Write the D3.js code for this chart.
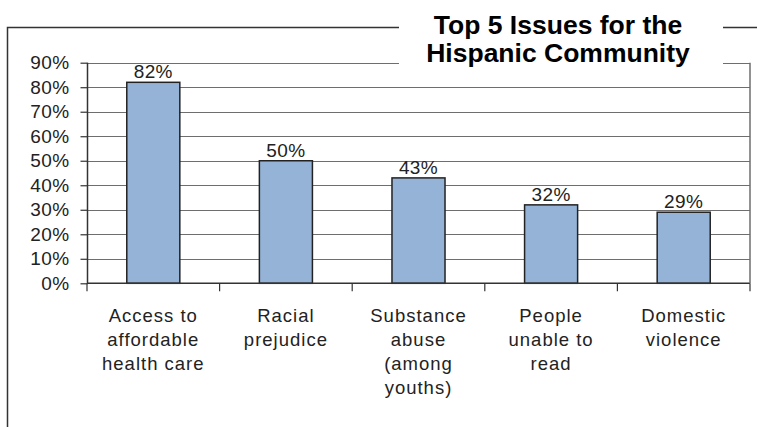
<!DOCTYPE html>
<html>
<head>
<meta charset="utf-8">
<script src="https://cdn.jsdelivr.net/npm/d3@7"></script>
<style>
  html, body { margin: 0; padding: 0; background: #fff; }
  svg { display: block; font-family: "Liberation Sans", Arial, sans-serif; }
</style>
</head>
<body>
<svg id="chart" width="757" height="427"></svg>
<script>
const categories = [
  ["Access to", "affordable", "health care"],
  ["Racial", "prejudice"],
  ["Substance", "abuse", "(among", "youths)"],
  ["People", "unable to", "read"],
  ["Domestic", "violence"]
];
const values = [0.82, 0.50, 0.43, 0.32, 0.29];
const valueLabels = ["82%", "50%", "43%", "32%", "29%"];
const yTicks = [0, 0.1, 0.2, 0.3, 0.4, 0.5, 0.6, 0.7, 0.8, 0.9];
const titleLines = ["Top 5 Issues for the", "Hispanic Community"];

const svg = d3.select("#chart");
const plot = { left: 87, right: 750, top: 62.7, bottom: 283.3 };

// outer frame (cropped by picture edge)
svg.append("rect")
  .attr("x", 7.5).attr("y", 27.5)
  .attr("width", 800).attr("height", 500)
  .attr("fill", "none").attr("stroke", "#333").attr("stroke-width", 1.5);

const x = d3.scaleBand()
  .domain(d3.range(categories.length))
  .range([plot.left, plot.right])
  .paddingInner(0.6).paddingOuter(0.3);
const xOuter = d3.scaleBand()
  .domain(d3.range(categories.length))
  .range([plot.left, plot.right]);
const y = d3.scaleLinear().domain([0, 0.9]).range([plot.bottom, plot.top]);

// gridlines
svg.append("g").selectAll("line").data(yTicks.slice(1)).join("line")
  .attr("x1", plot.left).attr("x2", plot.right)
  .attr("y1", d => Math.round(y(d)) + 0.5).attr("y2", d => Math.round(y(d)) + 0.5)
  .attr("stroke", "#6e6e6e").attr("stroke-width", 1.2);

// y axis
const yAxis = d3.axisLeft(y).tickValues(yTicks).tickFormat(d3.format(".0%")).tickSize(7).tickPadding(11);
const gy = svg.append("g").attr("transform", `translate(${plot.left + 0.5},0)`).call(yAxis);
gy.select(".domain").attr("stroke", "#333").attr("stroke-width", 1.5).attr("d", `M0,${plot.top}V${plot.bottom}`);
gy.selectAll(".tick line").attr("stroke", "#333").attr("stroke-width", 1.2);
gy.selectAll(".tick text").attr("font-size", 19).attr("fill", "#222")
  .attr("letter-spacing", 0.4)
  .attr("font-family", '"Liberation Sans", Arial, sans-serif');

// bars
svg.append("g").selectAll("rect").data(values).join("rect")
  .attr("x", (d, i) => x(i)).attr("width", x.bandwidth())
  .attr("y", d => y(d)).attr("height", d => y(0) - y(d))
  .attr("fill", "#95b3d7").attr("stroke", "#222").attr("stroke-width", 1.5);

// x axis line and boundary ticks
svg.append("line")
  .attr("x1", plot.left).attr("x2", plot.right)
  .attr("y1", plot.bottom).attr("y2", plot.bottom)
  .attr("stroke", "#333").attr("stroke-width", 1.5);
const bounds = d3.range(categories.length + 1).map(i => i < categories.length ? xOuter(i) : plot.right);
svg.append("g").selectAll("line").data(bounds).join("line")
  .attr("x1", d => d).attr("x2", d => d)
  .attr("y1", plot.bottom).attr("y2", plot.bottom + 8)
  .attr("stroke", "#333").attr("stroke-width", 1.2);
// right edge of plot
svg.append("line")
  .attr("x1", plot.right).attr("x2", plot.right)
  .attr("y1", plot.top).attr("y2", plot.bottom)
  .attr("stroke", "#6e6e6e").attr("stroke-width", 1.5);

// value labels
svg.append("g").selectAll("text").data(values).join("text")
  .attr("x", (d, i) => x(i) + x.bandwidth() / 2)
  .attr("y", d => y(d) - 4)
  .attr("text-anchor", "middle").attr("font-size", 19).attr("fill", "#222")
  .attr("letter-spacing", 0.4)
  .text((d, i) => valueLabels[i]);

// category labels
const cl = svg.append("g").selectAll("text").data(categories).join("text")
  .attr("text-anchor", "middle").attr("font-size", 18.5).attr("fill", "#222")
  .attr("letter-spacing", 1);
cl.each(function(lines, i) {
  d3.select(this).selectAll("tspan").data(lines).join("tspan")
    .attr("x", xOuter(i) + xOuter.bandwidth() / 2)
    .attr("y", (l, j) => 322 + j * 24)
    .text(l => l);
});

// title with white background
svg.append("rect")
  .attr("x", 399).attr("y", 0).attr("width", 324).attr("height", 69)
  .attr("fill", "#fff");
svg.append("g").selectAll("text").data(titleLines).join("text")
  .attr("x", 558).attr("y", (d, i) => 34 + i * 28)
  .attr("text-anchor", "middle").attr("font-size", 26.5).attr("font-weight", "bold")
  .attr("fill", "#000")
  .text(d => d);
</script>
</body>
</html>
